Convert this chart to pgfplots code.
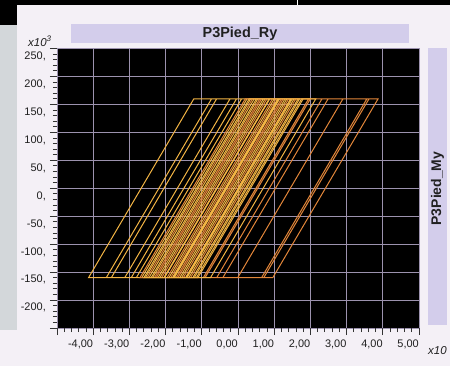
\documentclass[border=0pt]{standalone}
\usepackage{pgfplots}
\pgfplotsset{compat=1.18}
\usepackage{fontspec}
\setmainfont{Liberation Sans}
\definecolor{bgpale}{HTML}{F4F0F6}
\definecolor{graystrip}{HTML}{D3D7DA}
\definecolor{barcol}{HTML}{D3CDEB}
\definecolor{gridc}{HTML}{9C92AE}
\definecolor{orA}{HTML}{F2B444}
\definecolor{orB}{HTML}{E2863A}
\definecolor{txt}{HTML}{202020}
\begin{document}
\begin{tikzpicture}
\useasboundingbox (0bp,0bp) rectangle (450bp,366bp);
\begin{scope}[x=1bp,y=1bp]
\fill[bgpale] (0,0) rectangle (450,366);
\fill[black] (0,361) rectangle (450,366);
\fill[black] (0,341) rectangle (17,366);
\fill[graystrip] (0,36) rectangle (17,341);
\draw[white] (297,361) -- (297,366);
\fill[barcol] (71,323) rectangle (409,342);
\node[text=txt, font=\bfseries\fontsize{14.5}{16}\selectfont] at (240,332.5) {P3Pied\_Ry};
\fill[barcol] (428,41) rectangle (447,318);
\node[text=txt, rotate=90, font=\bfseries\fontsize{14}{16}\selectfont] at (437.5,177.5) {P3Pied\_My};
\node[text=txt, anchor=base west, inner sep=0pt, font=\itshape\fontsize{11.5}{13}\selectfont] at (28,320) {x10\textsuperscript{3}};
\node[text=txt, anchor=base west, inner sep=0pt, font=\itshape\fontsize{11.5}{13}\selectfont] at (428,12) {x10};
\end{scope}
\begin{axis}[
  at={(57bp,38bp)}, anchor=south west, scale only axis,
  width=362bp, height=279.5bp,
  xmin=-5, xmax=5, ymin=-250, ymax=250,
  axis background/.style={fill=black},
  axis line style={draw=none},
  xtick={-5,-4,...,5},
  xticklabels={{},{-4,00},{-3,00},{-2,00},{-1,00},{0,00},{1,00},{2,00},{3,00},{4,00},{5,00}},
  ytick={-250,-200,...,250},
  yticklabels={{},{-200,},{-150,},{-100,},{-50,},{0,},{50,},{100,},{150,},{200,},{250,}},
  minor x tick num=4, minor y tick num=4,
  tick align=outside, major tick length=7bp, minor tick length=4bp,
  tick style={color=black!80, line width=0.8bp},
  xtick pos=bottom, ytick pos=left,
  grid=major, major grid style={color=gridc, line width=0.9bp},
  ticklabel style={text=txt, font=\fontsize{11}{13}\selectfont, inner sep=0pt},
  xticklabel style={anchor=north east, yshift=-5bp},
  yticklabel style={anchor=north east, xshift=-4bp, yshift=-3bp},
  clip=true,
]
\addplot[orA, line width=1bp] coordinates {
(0,0) (1.455,160) (1.66,160) (-1.249,-160) (-1.609,-160) (1.30,160) (1.50,160) (-1.409,-160) (-1.909,-160) (1.00,160) (1.80,160) (-1.109,-160) (-2.159,-160) (0.75,160) (1.10,160) (-1.809,-160) (-2.459,-160) (0.45,160) (0.88,160) (-2.029,-160) (-4.129,-160) (-1.22,160) (-0.59,160) (-3.499,-160) (-3.639,-160) (-0.73,160) (0.10,160) (-2.809,-160) (-3.129,-160) (-0.22,160) (0.25,160) (-2.659,-160) (-2.949,-160) (-0.04,160) (0.55,160) (-2.359,-160) (-2.559,-160) (0.35,160) (2.00,160)
};
\addplot[orB, line width=1bp] coordinates {
(2.00,160) (-0.909,-160) (-2.259,-160) (0.65,160) (1.40,160) (-1.509,-160) (-1.959,-160) (0.95,160) (2.32,160) (-0.589,-160) (-1.709,-160) (1.20,160) (3.87,160) (0.961,-160) (0.651,-160) (3.56,160) (3.62,160) (0.711,-160) (-1.309,-160) (1.60,160) (2.90,160) (-0.009,-160) (-1.859,-160) (1.05,160) (2.49,160) (-0.419,-160) (-2.109,-160) (0.80,160) (1.25,160) (-1.659,-160) (-2.709,-160) (0.20,160) (0.60,160) (-2.309,-160) (-2.509,-160) (0.40,160) (1.95,160) (-0.959,-160)
};
\addplot[orA, line width=1bp] coordinates {
(-0.959,-160) (-1.15,-160) (1.759,160) (2.15,160) (-0.759,-160) (-1.45,-160) (1.459,160) (1.70,160) (-1.209,-160) (-2.05,-160) (0.859,160) (1.15,160) (-1.759,-160) (-2.40,-160) (0.509,160) (0.70,160) (-2.209,-160) (-2.60,-160) (0.309,160) (1.35,160) (-1.559,-160) (-1.80,-160) (1.109,160) (1.55,160) (-1.359,-160) (-1.42,-160) (0.20,18)
};
\end{axis}
\end{tikzpicture}
\end{document}
